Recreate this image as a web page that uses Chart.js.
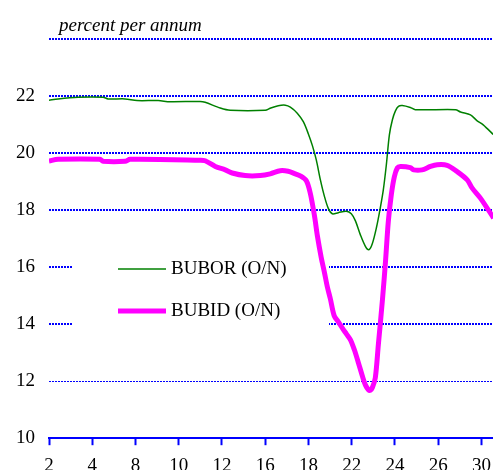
<!DOCTYPE html>
<html>
<head>
<meta charset="utf-8">
<script src="https://cdn.jsdelivr.net/npm/chart.js@4/dist/chart.umd.min.js"></script>
<style>
  html, body { margin: 0; padding: 0; background: #fff; overflow: hidden; }
  canvas { display: block; }
</style>
</head>
<body>
<canvas id="chart" width="500" height="486"></canvas>
<script>
// trading days shown on the x axis (every second trading day)
const dayLabels = ["2", "4", "8", "10", "12", "16", "18", "22", "24", "26", "30"];
const yTicks = [10, 12, 14, 16, 18, 20, 22, 24];

// x is the trading-day index (0 = day 2)
const buborX = [0, 0.42, 1.34, 2.5, 2.73, 3.52, 4.07, 5.05, 5.6, 6.99, 7.22, 7.92, 8.38, 10.0, 10.23, 10.6, 10.93,
    11.16, 11.48, 11.76, 11.99, 12.18, 12.36, 12.55, 12.73, 12.92, 13.1, 13.38, 13.75, 13.98, 14.17, 14.4, 14.63,
    14.79, 14.95, 15.14, 15.32, 15.46, 15.6, 15.74, 15.88, 16.02, 16.16, 16.34, 16.71, 16.94, 18.8, 19.03, 19.49,
    19.8, 20.08, 20.56];
const bubor = [21.85, 21.9, 21.96, 21.96, 21.9, 21.9, 21.84, 21.84, 21.8, 21.81, 21.78, 21.58, 21.5, 21.5, 21.57, 21.66, 21.68,
    21.61, 21.4, 21.1, 20.68, 20.26, 19.76, 19.06, 18.5, 18.05, 17.87, 17.91, 17.96, 17.87, 17.62, 17.13, 16.73,
    16.61, 16.82, 17.38, 18.08, 18.71, 19.59, 20.64, 21.17, 21.48, 21.64, 21.67, 21.6, 21.52, 21.52, 21.44, 21.34,
    21.13, 20.99, 20.64];

const bubidX = [0, 0.42, 2.36, 2.5, 3.52, 3.75, 6.99, 7.22, 7.69, 8.15, 8.47, 9.07, 9.77, 10.23, 10.69, 11.06, 11.39,
    11.62, 11.9, 12.08, 12.27, 12.41, 12.59, 12.73, 12.87, 13.01, 13.19, 13.38, 13.56, 13.75, 13.94, 14.12, 14.31,
    14.49, 14.63, 14.77, 14.86, 14.95, 15.09, 15.23, 15.42, 15.56, 15.69, 15.83, 15.97, 16.11, 16.25, 16.71, 16.86,
    17.25, 17.64, 17.95, 18.41, 18.87, 19.34, 19.57, 19.95, 20.56];
const bubid = [19.72, 19.78, 19.78, 19.71, 19.71, 19.78, 19.75, 19.73, 19.53, 19.41, 19.3, 19.21, 19.21, 19.27, 19.38, 19.36, 19.27,
    19.2, 19.03, 18.6, 17.83, 17.1, 16.33, 15.84, 15.31, 14.89, 14.29, 14.08, 13.87, 13.66, 13.45, 13.1, 12.64,
    12.18, 11.87, 11.7, 11.68, 11.77, 12.12, 13.28, 14.86, 16.19, 17.59, 18.54, 19.17, 19.48, 19.53, 19.49, 19.41,
    19.41, 19.53, 19.59, 19.57, 19.35, 19.06, 18.77, 18.42, 17.72];

const FONT = "'Liberation Serif', 'Times New Roman', serif";
const BLUE = "#0000ff";

const toPoints = (xs, ys) => xs.map((x, i) => ({ x: x, y: ys[i] }));

// white box under the legend, then the legend itself
const legendPlugin = {
    id: "insideLegend",
    beforeDatasetsDraw: (chart) => {
        const { ctx, chartArea } = chart;
        ctx.save();
        ctx.fillStyle = "#fff";
        ctx.fillRect(chartArea.left + 23, chartArea.top + 200, 257, 105);
        ctx.restore();
    },
    afterDatasetsDraw: (chart) => {
        const { ctx, chartArea } = chart;
        const x0 = chartArea.left + 69;
        const rows = [chartArea.top + 230, chartArea.top + 272];
        ctx.save();
        chart.data.datasets.forEach((ds, i) => {
            ctx.strokeStyle = ds.borderColor;
            ctx.lineWidth = ds.borderWidth;
            ctx.beginPath();
            ctx.moveTo(x0, rows[i]);
            ctx.lineTo(x0 + 48, rows[i]);
            ctx.stroke();
            ctx.fillStyle = "#000";
            ctx.font = "19px " + FONT;
            ctx.textBaseline = "middle";
            ctx.fillText(ds.label, x0 + 53, rows[i]);
        });
        ctx.restore();
    },
};

// "percent per annum" above the plot
const unitPlugin = {
    id: "unitLabel",
    afterDraw: (chart) => {
        const { ctx, chartArea } = chart;
        ctx.save();
        ctx.fillStyle = "#000";
        ctx.font = "italic 19px " + FONT;
        ctx.textBaseline = "alphabetic";
        ctx.fillText("percent per annum", chartArea.left + 10, chartArea.top - 8);
        ctx.restore();
    },
};

new Chart(document.getElementById("chart"), {
    type: "line",
    data: {
        datasets: [
            {
                label: "BUBOR (O/N)",
                data: toPoints(buborX, bubor),
                borderColor: "#008000",
                borderWidth: 1.5,
                pointRadius: 0,
                tension: 0.3,
            },
            {
                label: "BUBID (O/N)",
                data: toPoints(bubidX, bubid),
                borderColor: "#ff00ff",
                borderWidth: 5,
                pointRadius: 0,
                tension: 0.3,
            },
        ],
    },
    options: {
        responsive: false,
        animation: false,
        layout: { padding: { left: 2, top: 39, right: 0, bottom: 0 } },
        plugins: {
            legend: { display: false },
            tooltip: { enabled: false },
        },
        scales: {
            x: {
                type: "linear",
                min: 0,
                max: 20.56,
                afterBuildTicks: (scale) => {
                    scale.ticks = dayLabels.map((_, i) => ({ value: i * 2 }));
                },
                ticks: {
                    autoSkip: false,
                    maxRotation: 0,
                    padding: 9,
                    color: "#000",
                    font: { family: FONT, size: 19 },
                    callback: (value) => dayLabels[Math.round(value / 2)],
                },
                grid: {
                    drawOnChartArea: false,
                    drawTicks: true,
                    tickLength: 7,
                    tickWidth: 2,
                    tickColor: BLUE,
                },
                border: { display: true, color: BLUE, width: 2 },
            },
            y: {
                min: 10,
                max: 24,
                afterBuildTicks: (scale) => {
                    scale.ticks = yTicks.map((v) => ({ value: v }));
                },
                ticks: {
                    padding: 14,
                    color: "#000",
                    font: { family: FONT, size: 19 },
                    callback: (value) => (value === 24 ? "" : value),
                },
                grid: {
                    color: BLUE,
                    lineWidth: (ctx) => (ctx.tick && ctx.tick.value === 12 ? 1 : 2),
                    drawTicks: false,
                },
                border: { display: false, dash: [2, 1] },
            },
        },
    },
    plugins: [legendPlugin, unitPlugin],
});
</script>
</body>
</html>
